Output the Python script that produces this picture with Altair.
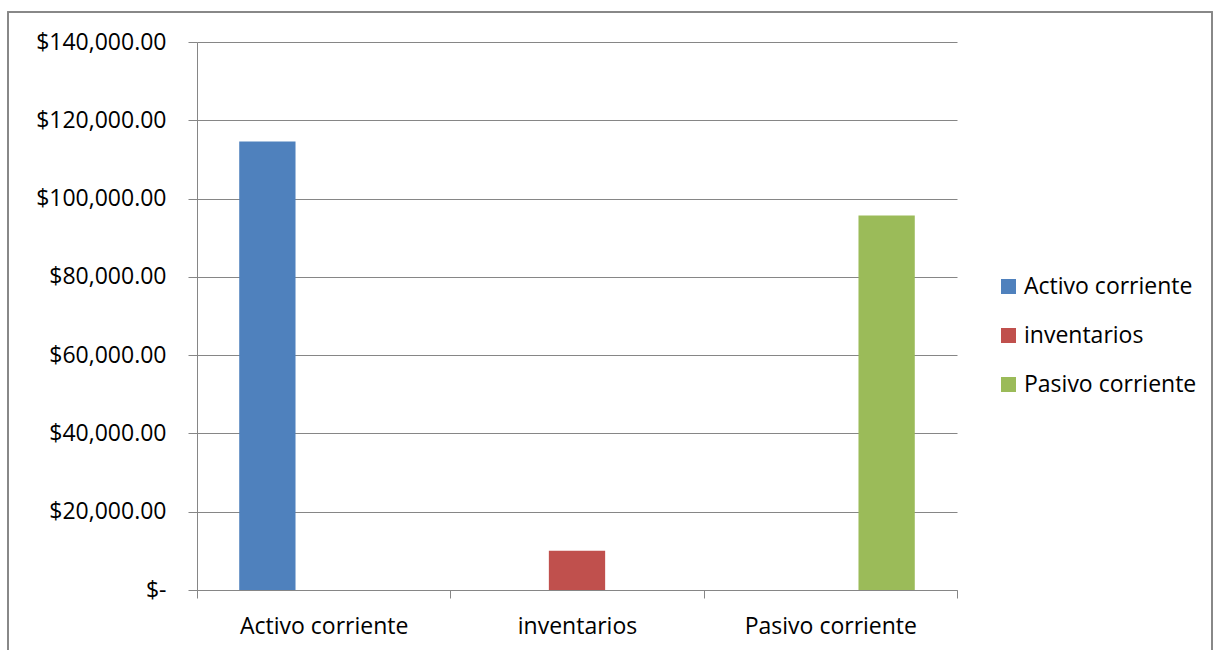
import altair as alt
import pandas as pd

# Liquidity components (USD)
categories = ["Activo corriente", "inventarios", "Pasivo corriente"]
series = ["Activo corriente", "inventarios", "Pasivo corriente"]
values = [114600, 10000, 95700]
colors = ["#4F81BD", "#C0504D", "#9BBB59"]
y_ticks = [0, 20000, 40000, 60000, 80000, 100000, 120000, 140000]

df = pd.DataFrame({"categoria": categories, "serie": series, "valor": values})

FONT = "Open Sans"
FSIZE = 23
GRAY = "#868686"

bars = alt.Chart(df).mark_bar().encode(
    x=alt.X(
        "categoria:N",
        sort=categories,
        scale=alt.Scale(paddingInner=0, paddingOuter=0),
        axis=alt.Axis(
            title=None,
            labelAngle=0,
            labelFontSize=FSIZE,
            labelFont=FONT,
            labelColor="#000000",
            labelPadding=17,
            tickBand="extent",
            tickSize=8,
            tickColor=GRAY,
            domainColor=GRAY,
            grid=False,
        ),
    ),
    xOffset=alt.XOffset(
        "serie:N",
        sort=series,
        scale=alt.Scale(paddingInner=0, paddingOuter=0.75),
    ),
    y=alt.Y(
        "valor:Q",
        scale=alt.Scale(domain=[0, 140000], nice=False),
        axis=alt.Axis(
            title=None,
            values=y_ticks,
            labelExpr="datum.value == 0 ? '$-\u00a0\u00a0\u00a0\u00a0' : '$' + format(datum.value, ',.2f')",
            labelFontSize=FSIZE,
            labelFont=FONT,
            labelColor="#000000",
            labelPadding=22,
            tickSize=9,
            tickColor=GRAY,
            domainColor=GRAY,
            gridColor=GRAY,
            gridOpacity=1,
        ),
    ),
    color=alt.Color(
        "serie:N",
        sort=series,
        scale=alt.Scale(domain=series, range=colors),
        legend=alt.Legend(
            title=None,
            orient="none",
            legendX=800,
            legendY=233,
            symbolType="square",
            symbolSize=225,
            symbolStrokeWidth=0,
            symbolOpacity=1,
            labelFontSize=FSIZE,
            labelFont=FONT,
            labelColor="#000000",
            labelLimit=400,
            labelOffset=4,
            rowPadding=25,
            padding=0,
        ),
    ),
)

# Outer chart frame
frame = alt.Chart(df).mark_rect(
    fill=None, stroke=GRAY, strokeWidth=1.5
).encode(
    x=alt.value(-189), x2=alt.value(1015),
    y=alt.value(-30), y2=alt.value(620),
)

chart = alt.layer(frame, bars).properties(
    width=760,
    height=548,
    background="#ffffff",
    autosize=alt.AutoSizeParams(type="none"),
    padding={"left": 197, "top": 42, "right": 256, "bottom": 60},
).configure_view(stroke=None)

chart.save("out.html", embed_options={"renderer": "svg", "actions": False})
